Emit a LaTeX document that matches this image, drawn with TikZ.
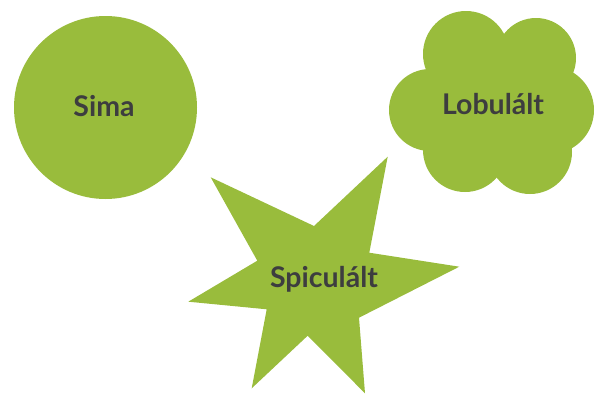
\documentclass[tikz,border=0pt]{standalone}
\usepackage{fontspec}
\setmainfont{Lato}
\definecolor{leaf}{HTML}{99BC3C}
\definecolor{ink}{HTML}{3D3D3F}
\tikzset{
  shapefill/.style={fill=leaf, draw=none},
  lbl/.style={text=ink, font=\fontsize{28.5}{32}\selectfont\bfseries, inner sep=0pt}
}
\begin{document}
\begin{tikzpicture}[x=1pt,y=-1pt]
\useasboundingbox (0,0) rectangle (595,394);
% smooth circle
\fill[shapefill] (105.5,107.5) circle[radius=91.5pt];
% lobulated cloud
\fill[shapefill] (466,54) circle[radius=43pt]
  (536,58) circle[radius=40pt]
  (550,110) circle[radius=44pt]
  (530,152) circle[radius=42pt]
  (465,150) circle[radius=42pt]
  (430,110) circle[radius=41pt]
  (490,105) circle[radius=52pt];
% spiculated star
\fill[shapefill] (210.7,177.3) -- (314,226) -- (387.7,156.7) -- (369.3,252.7)
  -- (459.3,266.7) -- (359,317.7) -- (365,393.3) -- (307.7,335.7)
  -- (251.7,388.3) -- (266.7,309.3) -- (188.3,301.7) -- (257.3,260.7) -- cycle;
\node[lbl] (sima) at (104,106) {Sima};
\node[lbl] (lobulalt) at (493,104) {Lobulált};
\node[lbl] (spiculalt) at (324,279) {Spiculált};
\end{tikzpicture}
\end{document}
